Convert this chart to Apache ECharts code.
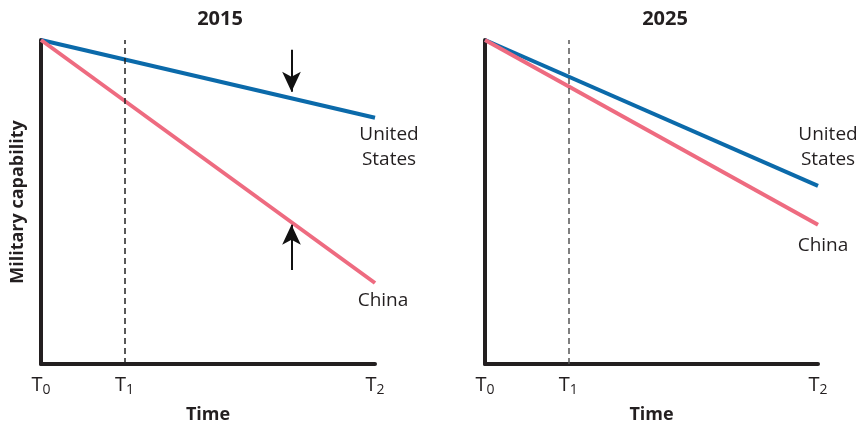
<!DOCTYPE html>
<html><head><meta charset="utf-8">
<script src="https://cdn.jsdelivr.net/npm/echarts@6/dist/echarts.min.js"></script>
<style>html,body{margin:0;padding:0;background:#fff}#c{width:862px;height:424px}</style>
</head><body><div id="c"></div>
<script>
// ---- data ----
const panels = ['2015', '2025'];
const timeX = [0, 4];                 // T0 .. T2
const tickPos = [0, 1, 4];            // T0, T1, T2
const tickSub = ['0', '1', '2'];
const t1 = 1;
const us2015 = [100, 76];
const china2015 = [100, 25];
const us2025 = [100, 55];
const china2025 = [100, 43];
const arrowDown2015 = [[3, 97], [3, 84]];
const arrowUp2015 = [[3, 29], [3, 43]];

const FONT = 'Open Sans';
const BLUE = '#0b6aaa', PINK = '#ee6b80', AXIS = '#231f20';

function zip(xs, ys) { return xs.map((x, i) => [x, ys[i]]); }

const chart = echarts.init(document.getElementById('c'), null, {renderer: 'canvas'});

function xAxis(gi) {
  return {
    type: 'value', gridIndex: gi, min: 0, max: 4, interval: 1,
    name: 'Time', nameLocation: 'middle', nameGap: 42,
    nameTextStyle: {fontFamily: FONT, fontWeight: 'bold', fontSize: 18, color: '#231f20'},
    axisLine: {show: true, lineStyle: {color: AXIS, width: 4}},
    axisTick: {show: false}, splitLine: {show: false},
    axisLabel: {
      margin: 10, showMinLabel: true, showMaxLabel: true,
      formatter: v => { const i = tickPos.indexOf(v); return i < 0 ? '' : '{t|T}{s|' + tickSub[i] + '}'; },
      rich: {
        t: {fontFamily: FONT, fontSize: 20, color: '#231f20'},
        s: {fontFamily: FONT, fontSize: 14, color: '#231f20', padding: [9, 0, 0, 0]}
      }
    }
  };
}
function yAxis(gi, name) {
  return {
    type: 'value', gridIndex: gi, min: 0, max: 100,
    name: name, nameLocation: 'middle', nameGap: 14,
    nameTextStyle: {fontFamily: FONT, fontWeight: 'bold', fontSize: 18, color: '#231f20'},
    axisLine: {show: true, lineStyle: {color: AXIS, width: 4}},
    axisTick: {show: false}, axisLabel: {show: false}, splitLine: {show: false}
  };
}
function lineSeries(gi, ys, color, label, offset) {
  return {
    type: 'line', xAxisIndex: gi, yAxisIndex: gi, data: zip(timeX, ys),
    symbol: 'none', lineStyle: {color: color, width: 4}, silent: true,
    endLabel: {show: true, formatter: label, distance: 0, offset: offset,
      align: 'center', verticalAlign: 'top', lineHeight: 25,
      fontFamily: FONT, fontSize: 19, color: '#231f20'}
  };
}
function t1Line(gi, color) {
  return {
    type: 'line', xAxisIndex: gi, yAxisIndex: gi, data: [], silent: true,
    markLine: {silent: true, symbol: 'none', label: {show: false},
      lineStyle: {color: color, width: 1.5, type: [6, 4]},
      data: [{xAxis: t1}]}
  };
}
function arrow(gi, pts) {
  return {
    type: 'line', xAxisIndex: gi, yAxisIndex: gi, data: [], silent: true,
    markLine: {silent: true, symbol: ['none', 'arrow'], symbolSize: [14, 20],
      label: {show: false}, lineStyle: {color: '#111', width: 2, type: 'solid'},
      data: [[{coord: pts[0]}, {coord: pts[1]}]]}
  };
}

chart.setOption({
  animation: false,
  title: [
    {text: panels[0], left: 215, top: 4, textAlign: 'center',
     textStyle: {fontFamily: FONT, fontWeight: 'bold', fontSize: 20, color: '#231f20'}},
    {text: panels[1], left: 660, top: 4, textAlign: 'center',
     textStyle: {fontFamily: FONT, fontWeight: 'bold', fontSize: 20, color: '#231f20'}}
  ],
  grid: [
    {left: 41, top: 40, width: 334, height: 324, outerBoundsMode: 'none', containLabel: false},
    {left: 485, top: 40, width: 333, height: 324, outerBoundsMode: 'none', containLabel: false}
  ],
  xAxis: [xAxis(0), xAxis(1)],
  yAxis: [yAxis(0, 'Military capability'), yAxis(1, '')],
  series: [
    t1Line(0, '#222'), t1Line(1, '#555'),
    lineSeries(0, us2015, BLUE, 'United\nStates', [14, 4]),
    lineSeries(0, china2015, PINK, 'China', [8, 5]),
    lineSeries(1, us2025, BLUE, 'United\nStates', [10, -64]),
    lineSeries(1, china2025, PINK, 'China', [5, 8]),
    arrow(0, arrowDown2015), arrow(0, arrowUp2015)
  ]
});
</script></body></html>
